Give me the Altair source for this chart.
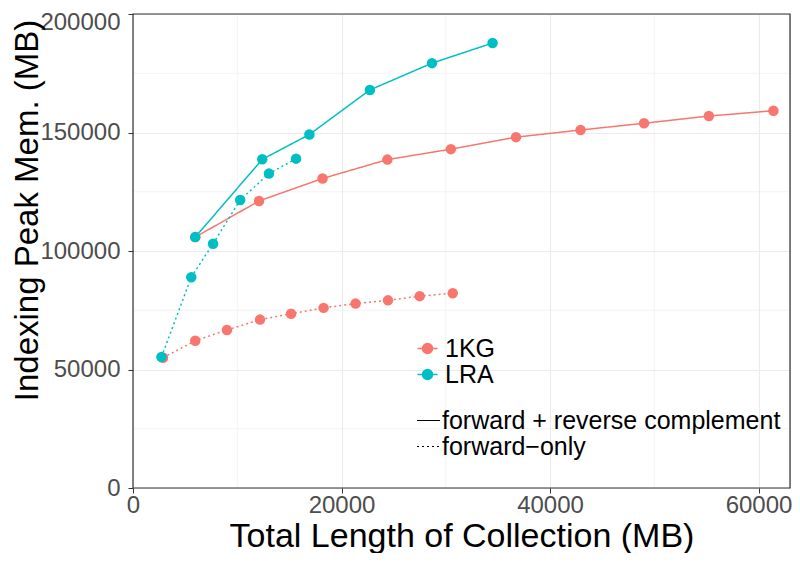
import altair as alt
import pandas as pd

# Data
x_1kg_fr = [5970, 12090, 18180, 24400, 30490, 36740, 42930, 49020, 55240, 61430]
y_1kg_fr = [105860, 121110, 130600, 138560, 142970, 148040, 151050, 153900, 156950, 159180]
x_1kg_f = [2880, 5970, 9010, 12180, 15160, 18280, 21350, 24460, 27500, 30670]
y_1kg_f = [54970, 62140, 66680, 71050, 73530, 76000, 77810, 79180, 80950, 82190]
x_lra_fr = [5970, 12400, 16920, 22720, 28680, 34490]
y_lra_fr = [105860, 138680, 149150, 167960, 179260, 187750]
x_lra_f = [2730, 5590, 7680, 10280, 13040, 15640]
y_lra_f = [55260, 88950, 103090, 121530, 132660, 138970]

datasets = ["1KG", "LRA"]
dataset_colors = ["#F8766D", "#00BFC4"]
types = ["forward + reverse complement", "forward\u2212only"]

x_major = [0, 20000, 40000, 60000]
x_minor = [10000, 30000, 50000]
y_major = [0, 50000, 100000, 150000, 200000]
y_minor = [25000, 75000, 125000, 175000]

rows = []
for ds, tp, xs, ys in [
    ("1KG", types[0], x_1kg_fr, y_1kg_fr),
    ("1KG", types[1], x_1kg_f, y_1kg_f),
    ("LRA", types[0], x_lra_fr, y_lra_fr),
    ("LRA", types[1], x_lra_f, y_lra_f),
]:
    for xv, yv in zip(xs, ys):
        rows.append({"dataset": ds, "type": tp, "len": xv, "mem": yv})
df = pd.DataFrame(rows)

FONT = "Liberation Sans"
xscale = alt.Scale(domain=[0, 63020], nice=False, zero=False)
yscale = alt.Scale(domain=[0, 200000], nice=False, zero=False)
cscale = alt.Scale(domain=datasets, range=dataset_colors)
dscale = alt.Scale(domain=types, range=[[1, 0], [2, 3]])

grid_color = "#EBEBEB"

xminor = alt.Chart(pd.DataFrame({"v": x_minor})).mark_rule(
    color=grid_color, strokeWidth=0.6
).encode(x=alt.X("v:Q", scale=xscale))
yminor = alt.Chart(pd.DataFrame({"v": y_minor})).mark_rule(
    color=grid_color, strokeWidth=0.6
).encode(y=alt.Y("v:Q", scale=yscale))

x_axis = alt.Axis(
    values=x_major, title="Total Length of Collection (MB)", grid=True,
    gridColor=grid_color, gridWidth=1.1, domain=False, tickColor="#333333",
    tickSize=5, labelFontSize=24, labelColor="#4D4D4D", labelFont=FONT,
    labelPadding=0, titleFontSize=34, titleFont=FONT, titleFontWeight="normal",
    titleColor="black", titleY=58, titleBaseline="alphabetic", format="d",
    labelFlush=False,
)
y_axis = alt.Axis(
    values=y_major, title="Indexing Peak Mem. (MB)", grid=True,
    gridColor=grid_color, gridWidth=1.1, domain=False, tickColor="#333333",
    tickSize=5, labelFontSize=24, labelColor="#4D4D4D", labelFont=FONT,
    labelPadding=8, titleFontSize=33, titleFont=FONT, titleFontWeight="normal",
    titleColor="black", titleX=-96, titleY=196, titleBaseline="alphabetic",
    titleAlign="center", format="d", labelFlush=False,
    labelOffset={"condition": {"test": "datum.value >= 200000", "value": 8}, "value": 0},
)

circle_line = "M-1,0L1,0M0.5,0A0.5,0.5,0,1,1,-0.5,0A0.5,0.5,0,1,1,0.5,0Z"

color_legend = alt.Legend(
    title=None, orient="none", legendX=282, legendY=322, symbolType=circle_line,
    symbolSize=400, symbolStrokeWidth=1.5, labelFontSize=25, labelFont=FONT,
    labelColor="black", labelOffset=5, rowPadding=0, padding=0, symbolOpacity=1,
    labelLimit=0,
)
dash_legend = alt.Legend(
    title=None, orient="none", legendX=283, legendY=394, symbolType="stroke",
    symbolSize=529, symbolStrokeWidth=1.2, symbolStrokeColor="black",
    labelFontSize=25, labelFont=FONT, labelColor="black", labelOffset=1,
    rowPadding=0, padding=0, labelLimit=0,
)

lines = alt.Chart(df).mark_line(strokeWidth=1.5).encode(
    x=alt.X("len:Q", scale=xscale, axis=x_axis),
    y=alt.Y("mem:Q", scale=yscale, axis=y_axis),
    stroke=alt.Stroke("dataset:N", scale=cscale, legend=color_legend),
    strokeDash=alt.StrokeDash("type:N", scale=dscale, legend=dash_legend),
    order=alt.Order("len:Q"),
)
points = alt.Chart(df).mark_point(filled=True, size=110, opacity=1).encode(
    x=alt.X("len:Q", scale=xscale),
    y=alt.Y("mem:Q", scale=yscale),
    fill=alt.Fill("dataset:N", scale=cscale, legend=color_legend),
)

border = alt.Chart(pd.DataFrame({"v": [0]})).mark_rect(
    filled=False, stroke="#333333", strokeWidth=1.2, fill=None
).encode(
    x=alt.value(0), x2=alt.value("width"), y=alt.value(0), y2=alt.value("height")
)

chart = alt.layer(xminor, yminor, lines, points, border).properties(
    width=657, height=474,
    autosize=alt.AutoSizeParams(type="none"),
    padding={"left": 125, "top": 6, "right": 2, "bottom": 65},
).configure_view(
    stroke=None
).configure(background="white")

chart.save("out.html", embed_options={"renderer": "svg", "actions": False})
